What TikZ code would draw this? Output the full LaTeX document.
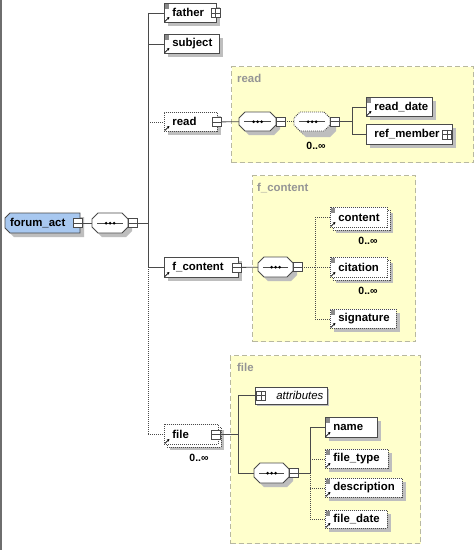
\documentclass[tikz,border=0pt]{standalone}
\usepackage{fontspec}
\setmainfont{Liberation Sans}
\usetikzlibrary{arrows.meta}
\definecolor{lineg}{RGB}{74,74,74}
\definecolor{sdwcol}{RGB}{190,190,190}
\definecolor{grpfill}{RGB}{255,255,204}
\definecolor{grpdraw}{RGB}{184,184,160}
\definecolor{grplabel}{RGB}{149,149,149}
\definecolor{rootblue}{RGB}{168,200,240}
\definecolor{sqgray}{RGB}{138,138,138}
\newcommand{\elfont}{\bfseries\fontsize{11.4pt}{13pt}\selectfont}
\newcommand{\occfont}{\bfseries\fontsize{10.5pt}{12pt}\selectfont}
% element box: style, name, x, y, w, h, text
\newcommand{\elnode}[7]{%
  \pgfmathsetmacro{\eltw}{#5-16}%
  \node[#1, minimum width=#5pt, minimum height=#6pt, text width=\eltw pt] (#2) at (#3,#4) {#7};}
% shadow rectangle: x, y, w, h, offset
\newcommand{\shadrect}[5]{\path[fill=sdwcol] (#1+#5,#2+#5) rectangle ++(#3,#4);}
% dotted back copy of a repeated element: x, y, w, h
\newcommand{\backbox}[4]{\shadrect{#1}{#2}{#3}{#4}{6}\draw[lineg, line width=0.8pt, dash pattern=on 1pt off 1pt, fill=white] (#1+3,#2+3) rectangle ++(#3,#4);}
\newcommand{\octp}[4]{(#1+6,#2) -- (#1+#3-6,#2) -- (#1+#3,#2+6) -- (#1+#3,#2+#4-6) -- (#1+#3-6,#2+#4) -- (#1+6,#2+#4) -- (#1,#2+#4-6) -- (#1,#2+6) -- cycle}
% sequence compositor: name, x, y, w, h, extra line style
\newcommand{\seqnode}[6]{%
  \path[fill=sdwcol] \octp{#2+4}{#3+4}{#4}{#5};
  \draw[lineg, line width=0.8pt, fill=white, #6] \octp{#2}{#3}{#4}{#5};
  \node[seqbox, minimum width=#4pt, minimum height=#5pt] (#1) at (#2,#3) {};
  \draw[lineg, line width=0.7pt] ([xshift=5pt]#1.west) -- ([xshift=-5pt]#1.east);
  \foreach \d in {-4,0,4}{\fill[black] ([xshift=\d pt]#1.center) circle (1.5pt);}}
\newcommand{\gsq}[1]{\fill[sqgray] ([shift={(1,1)}]#1.north west) rectangle ([shift={(5,6)}]#1.north west);}
\newcommand{\earrow}[1]{\draw[black, line width=0.7pt, -{Stealth[length=2.6pt,width=2.8pt]}] ([shift={(0.8,-1.2)}]#1.south west) -- ++(4.6,-4.6);}
\begin{document}
\begin{tikzpicture}[x=1pt,y=-1pt,
  conn/.style={draw=lineg, line width=0.8pt},
  dots/.style={dash pattern=on 1pt off 1pt},
  elbase/.style={rectangle, draw=lineg, line width=0.8pt, fill=white, anchor=north west, inner ysep=0pt, inner xsep=8pt, align=left, font=\elfont, text=black},
  el/.style={elbase},
  elo/.style={elbase, dots},
  seqbox/.style={rectangle, draw=none, anchor=north west, inner sep=0pt},
  minus/.style={rectangle, solid, draw=lineg, line width=0.6pt, fill=white, minimum size=9pt, inner sep=0pt,
    path picture={\draw[lineg, line width=0.6pt] (path picture bounding box.west) -- (path picture bounding box.east);}},
  plus/.style={rectangle, solid, draw=lineg, line width=0.6pt, fill=white, minimum size=9pt, inner sep=0pt,
    path picture={\draw[lineg, line width=0.6pt] (path picture bounding box.west) -- (path picture bounding box.east);
      \draw[lineg, line width=0.6pt] (path picture bounding box.north) -- (path picture bounding box.south);}},
  group/.style={rectangle, fill=grpfill, draw=grpdraw, line width=1pt, dash pattern=on 5pt off 3pt, anchor=north west, inner sep=0pt},
  grplab/.style={anchor=base west, inner sep=0pt, text=grplabel, font=\elfont},
  occ/.style={inner sep=0pt, font=\occfont, text=black},
  rootbox/.style={rectangle, draw=none, anchor=north west, minimum width=75pt, minimum height=20pt, inner xsep=5pt, inner ysep=0pt, font=\elfont, text width=65pt, align=left}
]
\useasboundingbox (0,0) rectangle (476,550);
\fill[white] (0,0) rectangle (476,550);
\draw[lineg!80, line width=1.6pt] (0.8,0) -- (0.8,550);

% groups
\node[group, minimum width=242pt, minimum height=96pt] (readgrp) at (231,66) {};
\node[grplab] (readlab) at (237,82) {read};
\node[group, minimum width=163pt, minimum height=166pt] (fgrp) at (252,175) {};
\node[grplab] (flab) at (257,191) {f\_content};
\node[group, minimum width=190pt, minimum height=188pt] (filegrp) at (230,355) {};
\node[grplab] (filelab) at (237,371) {file};

% root element
\path[fill=sdwcol] (14,217) -- (84,217) -- (84,237) -- (14,237) -- (9,232) -- (9,222) -- cycle;
\draw[lineg, line width=0.8pt, fill=rootblue] (10,213) -- (80,213) -- (80,233) -- (10,233) -- (5,228) -- (5,218) -- cycle;
\node[rootbox] (forumact) at (5,213) {forum\_act};
\node[minus] (forumactm) at ([xshift=-2.5pt]forumact.east) {};
\seqnode{seq1}{92}{213}{36}{20}{}
\node[minus] (seq1m) at ([xshift=4pt]seq1.east) {};

% children of forum_act
\shadrect{164}{3}{52}{19}{4}
\elnode{el}{father}{164}{3}{52}{19}{father}
\node[plus] (fatherp) at ([xshift=-1.5pt]father.east) {};
\shadrect{164}{34}{55}{19}{4}
\elnode{el}{subject}{164}{34}{55}{19}{subject}
\shadrect{164}{112}{53}{19}{4}
\elnode{elo}{read}{164}{112}{53}{19}{read}
\node[minus] (readm) at ([xshift=-1.5pt]read.east) {};
\shadrect{164}{257}{74}{20}{4}
\elnode{el}{fcontent}{164}{257}{74}{20}{f\_content}
\node[minus] (fcontentm) at ([xshift=-2pt]fcontent.east) {};
\backbox{164}{424}{54}{20}
\elnode{elo}{file}{164}{424}{54}{20}{file}
\node[minus] (filem) at ([xshift=-3pt]file.east) {};
\node[occ] (fileocc) at (199,458) {0..∞};

% read content
\seqnode{seqR1}{239}{112}{37}{19}{}
\node[minus] (seqR1m) at ([xshift=4pt]seqR1.east) {};
\path[fill=sdwcol] \octp{300}{118}{36}{19};
\draw[lineg, line width=0.8pt, fill=white, dots] \octp{297}{115}{36}{19};
\seqnode{seqR2}{294}{112}{36}{19}{dots}
\node[minus] (seqR2m) at ([xshift=4pt]seqR2.east) {};
\node[occ] (seqR2occ) at (316,146) {0..∞};
\shadrect{366}{97}{66}{19}{4}
\elnode{el}{readdate}{366}{97}{66}{19}{read\_date}
\shadrect{366}{124}{86}{20}{4}
\elnode{el}{refmember}{366}{124}{86}{20}{ref\_member}
\node[plus] (refmemberp) at ([xshift=-6pt]refmember.east) {};

% f_content content
\seqnode{seqF}{258}{257}{35}{20}{}
\node[minus] (seqFm) at ([xshift=4pt]seqF.east) {};
\backbox{330}{207}{57}{20}
\elnode{elo}{content}{330}{207}{57}{20}{content}
\node[occ] (contentocc) at (368,241) {0..∞};
\backbox{330}{257}{57}{20}
\elnode{elo}{citation}{330}{257}{57}{20}{citation}
\node[occ] (citationocc) at (368,291) {0..∞};
\shadrect{330}{309}{66}{19}{4}
\elnode{elo}{signature}{330}{309}{66}{19}{signature}

% file content
\shadrect{255}{387}{72}{17}{2}
\node[rectangle, draw=lineg, line width=0.6pt, fill=white, anchor=north west, minimum width=72pt, minimum height=17pt, inner xsep=4pt, inner ysep=0pt, text width=64pt, align=right, font=\itshape\fontsize{11.4pt}{13pt}\selectfont] (attributes) at (255,387) {attributes};
\node[plus] (attributesp) at (261,395.5) {};
\seqnode{seqFile}{254}{463}{35}{20}{}
\node[minus] (seqFilem) at ([xshift=4pt]seqFile.east) {};
\shadrect{325}{417}{52}{20}{4}
\elnode{el}{name}{325}{417}{52}{20}{name}
\shadrect{325}{449}{63}{19}{4}
\elnode{elo}{filetype}{325}{449}{63}{19}{file\_type}
\shadrect{325}{478}{77}{19}{4}
\elnode{elo}{description}{325}{478}{77}{19}{description}
\shadrect{325}{510}{62}{18}{4}
\elnode{elo}{filedate}{325}{510}{62}{18}{file\_date}

% icons
\foreach \n in {father,subject,readdate,content,citation,signature,name,filetype,description,filedate}{\gsq{\n}}
\foreach \n in {father,subject,read,fcontent,file,readdate,content,citation,signature,name,filetype,description,filedate}{\earrow{\n}}

% connectors main
\coordinate (tx) at (148,0);
\draw[conn] (forumactm.east) -- (seq1.west);
\draw[conn] (seq1m.east) -- (seq1m.east -| tx);
\draw[conn] (father.west -| tx) -- (fcontent.west -| tx);
\draw[conn, dots] (fcontent.west -| tx) -- (file.west -| tx);
\draw[conn] (father.west -| tx) -- (father.west);
\draw[conn] (subject.west -| tx) -- (subject.west);
\draw[conn, dots] (read.west -| tx) -- (read.west);
\draw[conn] (fcontent.west -| tx) -- (fcontent.west);
\draw[conn, dots] (file.west -| tx) -- (file.west);

% read connectors
\draw[conn] (readm.east) -- (seqR1.west);
\draw[conn, dots] (seqR1m.east) -- (seqR2.west);
\coordinate (rx) at (352,0);
\draw[conn] (seqR2m.east) -- (seqR2m.east -| rx);
\draw[conn] (readdate.west -| rx) -- (refmember.west -| rx);
\draw[conn] (readdate.west -| rx) -- (readdate.west);
\draw[conn] (refmember.west -| rx) -- (refmember.west);

% f_content connectors
\draw[conn] (fcontentm.east) -- (seqF.west);
\coordinate (fx) at (315,0);
\draw[conn, dots] (seqFm.east) -- (seqFm.east -| fx);
\draw[conn, dots] (content.west -| fx) -- (signature.west -| fx);
\draw[conn, dots] (content.west -| fx) -- (content.west);
\draw[conn, dots] (citation.west -| fx) -- (citation.west);
\draw[conn, dots] (signature.west -| fx) -- (signature.west);

% file connectors
\coordinate (gx) at (238,0);
\draw[conn] (filem.east) -- (filem.east -| gx);
\draw[conn] (attributes.west -| gx) -- (seqFile.west -| gx);
\draw[conn] (attributes.west -| gx) -- (attributes.west);
\draw[conn] (seqFile.west -| gx) -- (seqFile.west);
\coordinate (hx) at (310,0);
\draw[conn] (seqFilem.east) -- (seqFilem.east -| hx);
\draw[conn] (name.west -| hx) -- (seqFilem.east -| hx);
\draw[conn, dots] (seqFilem.east -| hx) -- (filedate.west -| hx);
\draw[conn] (name.west -| hx) -- (name.west);
\draw[conn, dots] (filetype.west -| hx) -- (filetype.west);
\draw[conn, dots] (description.west -| hx) -- (description.west);
\draw[conn, dots] (filedate.west -| hx) -- (filedate.west);
\end{tikzpicture}
\end{document}
